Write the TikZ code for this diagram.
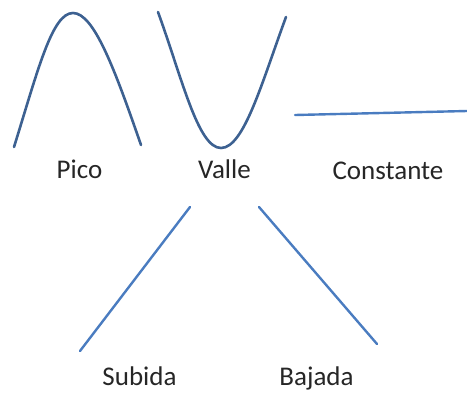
\documentclass[tikz,border=0pt]{standalone}
\usepackage{fontspec}
\setmainfont{Carlito}
\definecolor{curveblue}{HTML}{3D6191}
\definecolor{lineblue}{HTML}{4A7CC0}
\definecolor{txt}{HTML}{262626}
\begin{document}
\begin{tikzpicture}[x=1pt,y=-1pt,
  curve/.style={draw=curveblue,line width=2.6pt,line cap=round},
  straight/.style={draw=lineblue,line width=2.4pt,line cap=round},
  lbl/.style={anchor=base,text=txt,font=\fontsize{27}{32}\selectfont,inner sep=0pt}]
\useasboundingbox (0,0) rectangle (467,392);
% Pico
\draw[curve] (14,147) .. controls (38,70) and (52,13) .. (73,13)
  .. controls (94,13) and (115,70) .. (141,145);
% Valle
\draw[curve] (158,12) .. controls (182,78) and (198,148) .. (221,148)
  .. controls (244,148) and (262,82) .. (286,17);
% Constante
\coordinate (c1) at (295,115);
\coordinate (c2) at (467,111);
\draw[straight] (c1) -- (c2);
% Subida
\coordinate (s1) at (190,207);
\coordinate (s2) at (80,351);
\draw[straight] (s1) -- (s2);
% Bajada
\coordinate (b1) at (259,207);
\coordinate (b2) at (377,344);
\draw[straight] (b1) -- (b2);
% labels
\node[lbl] (pico) at (79.5,178) {Pico};
\node[lbl] (valle) at (224.5,178) {Valle};
\node[lbl] (const) at (388,179) {Constante};
\node[lbl] (subida) at (139.5,385) {Subida};
\node[lbl] (bajada) at (316.5,385) {Bajada};
\end{tikzpicture}
\end{document}
